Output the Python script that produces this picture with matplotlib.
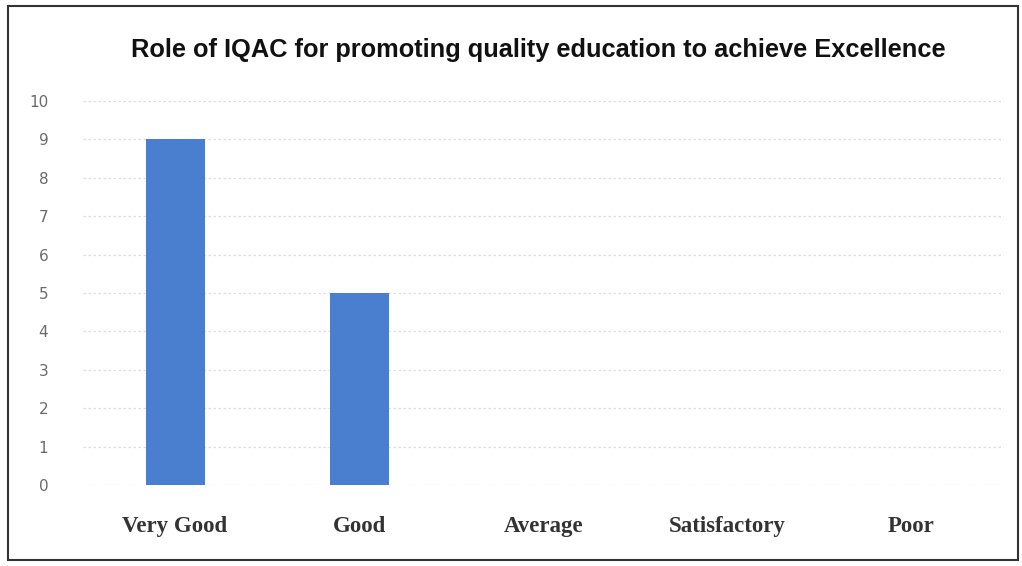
import matplotlib
matplotlib.use("Agg")
import matplotlib.pyplot as plt
from matplotlib.patches import Rectangle

# data
categories = ["Very Good", "Good", "Average", "Satisfactory", "Poor"]
counts = [9, 5, 0, 0, 0]
y_ticks = list(range(0, 11))

fig = plt.figure(figsize=(10.22, 5.66), dpi=100)
ax = fig.add_axes([0.0812, 0.1431, 0.9008, 0.6785])

ax.bar(categories, counts, width=0.32, color="#4a7fcf", zorder=3)

ax.set_ylim(0, 10)
ax.set_xlim(-0.5, len(categories) - 0.5)
ax.set_yticks(y_ticks)
ax.grid(axis="y", color="#dedede", lw=0.9, ls=(0, (2, 2)), zorder=0)
for s in ax.spines.values():
    s.set_visible(False)
ax.tick_params(axis="both", length=0)
ax.tick_params(axis="y", pad=25, labelsize=11, labelcolor="#6a6a6a")
ax.tick_params(axis="x", pad=22)
for lbl in ax.get_xticklabels():
    lbl.set_fontfamily("Liberation Serif")
    lbl.set_fontweight("bold")
    lbl.set_fontsize(16.5)
    lbl.set_color("#333333")

fig.text(0.527, 0.912, "Role of IQAC for promoting quality education to achieve Excellence",
         ha="center", va="center", fontsize=18.3, fontweight="bold",
         family="Liberation Sans", color="#111111")

# outer chart border
fig.patches.append(Rectangle((8 / 1022, 6 / 566), 1010 / 1022, 554 / 566,
                             transform=fig.transFigure, fill=False,
                             edgecolor="#333333", lw=1.5))

fig.savefig("out.png", dpi=100)
